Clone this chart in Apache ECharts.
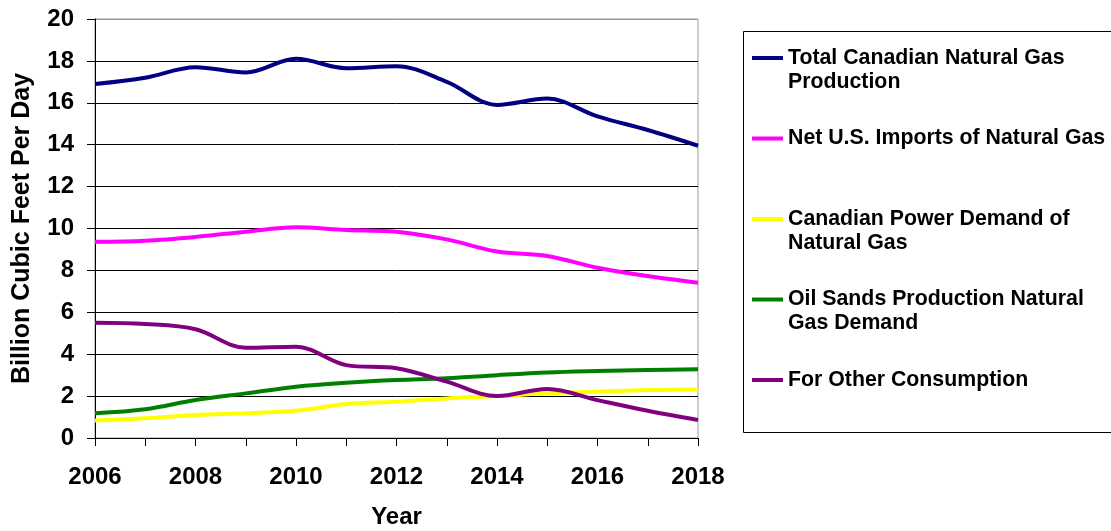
<!DOCTYPE html>
<html>
<head>
<meta charset="utf-8">
<script src="https://cdn.jsdelivr.net/npm/echarts@6/dist/echarts.min.js"></script>
<style>
  html, body { margin: 0; padding: 0; background: #fff; }
  #chart { width: 1111px; height: 531px; }
</style>
</head>
<body>
<div id="chart"></div>
<script>
// values (billion cubic feet per day)
const years = ['2006', '2007', '2008', '2009', '2010', '2011', '2012', '2013', '2014', '2015', '2016', '2017', '2018'];
const totalProduction = [16.9, 17.2, 17.7, 17.45, 18.1, 17.65, 17.75, 17.0, 15.9, 16.2, 15.35, 14.7, 13.95];
const netUsImports = [9.37, 9.42, 9.6, 9.85, 10.06, 9.93, 9.85, 9.48, 8.9, 8.69, 8.13, 7.73, 7.41];
const powerDemand = [0.83, 0.94, 1.1, 1.18, 1.3, 1.62, 1.73, 1.89, 2.0, 2.13, 2.21, 2.29, 2.32];
const oilSandsDemand = [1.18, 1.37, 1.81, 2.13, 2.45, 2.64, 2.77, 2.85, 3.0, 3.13, 3.2, 3.25, 3.28];
const otherConsumption = [5.5, 5.44, 5.19, 4.31, 4.36, 3.48, 3.33, 2.69, 2.0, 2.34, 1.81, 1.3, 0.86];

const seriesNames = [
  'Total Canadian Natural Gas Production',
  'Net U.S. Imports of Natural Gas',
  'Canadian Power Demand of Natural Gas',
  'Oil Sands Production Natural Gas Demand',
  'For Other Consumption'
];
// legend text as wrapped in the original; a blank line above each entry
// keeps the icon level with the first line of text
const legendLabels = [
  ' \nTotal Canadian Natural Gas\nProduction',
  ' \nNet U.S. Imports of Natural Gas\n ',
  ' \nCanadian Power Demand of\nNatural Gas',
  ' \nOil Sands Production Natural\nGas Demand',
  ' \nFor Other Consumption\n '
];
const seriesData = [totalProduction, netUsImports, powerDemand, oilSandsDemand, otherConsumption];
const seriesColors = ['#000080', '#FF00FF', '#FFFF00', '#008000', '#800080'];

const font = '"Liberation Sans", Arial, sans-serif';
const chart = echarts.init(document.getElementById('chart'), null, { renderer: 'canvas' });

const gridColors = ['#000', '#000', '#000', '#000', '#000', '#000', '#000', '#000', '#000', '#000', '#999'];

const option = {
  animation: false,
  backgroundColor: '#fff',
  textStyle: { fontFamily: font },
  grid: {
    left: 95, right: 413, top: 19, bottom: 93,
    outerBoundsMode: 'none',
    show: true, borderColor: '#999', borderWidth: 1
  },
  legend: {
    orient: 'vertical',
    left: 752,
    top: 22,
    padding: 0,
    itemGap: 8.5,
    itemWidth: 31,
    itemHeight: 4,
    icon: 'rect',
    data: seriesNames,
    formatter: name => legendLabels[seriesNames.indexOf(name)],
    textStyle: {
      fontFamily: font,
      fontSize: 21.3,
      fontWeight: 'bold',
      color: '#000',
      lineHeight: 24
    }
  },
  graphic: [{
    type: 'rect',
    silent: true,
    shape: { x: 743.5, y: 31.5, width: 390, height: 401 },
    style: { fill: null, stroke: '#000', lineWidth: 1 }
  }],
  xAxis: {
    type: 'category',
    data: years,
    boundaryGap: false,
    name: 'Year',
    nameLocation: 'middle',
    nameGap: 67,
    nameTextStyle: { fontFamily: font, fontSize: 24, fontWeight: 'bold', color: '#000' },
    axisLine: { show: true, lineStyle: { color: '#000', width: 1 } },
    axisTick: { show: true, interval: 0, length: 8, lineStyle: { color: '#000' } },
    axisLabel: { interval: 1, margin: 27, fontFamily: font, fontSize: 24, fontWeight: 'bold', color: '#000' },
    splitLine: { show: false }
  },
  yAxis: {
    type: 'value',
    min: 0,
    max: 20,
    interval: 2,
    name: 'Billion Cubic Feet Per Day',
    nameLocation: 'middle',
    nameGap: 60,
    nameTextStyle: { fontFamily: font, fontSize: 25, fontWeight: 'bold', color: '#000' },
    axisLine: { show: true, lineStyle: { color: '#000', width: 1 } },
    axisTick: { show: true, length: 8, lineStyle: { color: '#000' } },
    axisLabel: { margin: 21, fontFamily: font, fontSize: 24, fontWeight: 'bold', color: '#000' },
    splitLine: { show: true, lineStyle: { color: gridColors, width: 1 } }
  },
  series: seriesNames.map((name, i) => ({
    name: name,
    type: 'line',
    data: seriesData[i],
    smooth: 0.35,
    showSymbol: false,
    symbol: 'none',
    color: seriesColors[i],
    lineStyle: { color: seriesColors[i], width: 4 }
  }))
};

chart.setOption(option);
</script>
</body>
</html>
